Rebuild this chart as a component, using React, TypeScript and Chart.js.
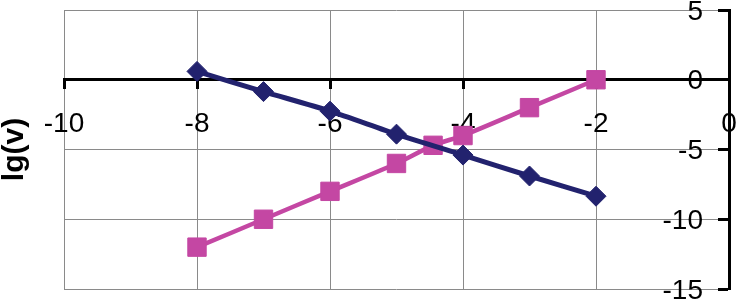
import React, { useEffect, useRef } from "react";
import { Chart, registerables } from "chart.js";

Chart.register(...registerables);

// Data
const blueX = [-8, -7, -6, -5, -4, -3, -2];
const blueY = [0.6, -0.85, -2.25, -3.9, -5.4, -6.9, -8.35];
const pinkX = [-8, -7, -6, -5, -4.45, -4, -3, -2];
const pinkY = [-12, -10, -8, -6, -4.7, -4, -2, 0];

const xMin = -10;
const xMax = 0;
const xStep = 2;
const yMin = -15;
const yMax = 5;
const yStep = 5;
const yTitle = "lg(v)";

const FONT = "'Liberation Sans', Arial, sans-serif";
const NAVY = "#22226e";
const PINK = "#c447a3";
const GRID = "#8a8a8a";

export default function App() {
  const ref = useRef<HTMLCanvasElement | null>(null);

  useEffect(() => {
    if (!ref.current) return;
    const zeroPad = (s: any) => {
      s.paddingLeft = 0;
      s.paddingRight = 0;
      s.paddingTop = 0;
      s.paddingBottom = 0;
    };
    const chart = new Chart(ref.current, {
      type: "line",
      data: {
        datasets: [
          {
            label: "s1",
            data: blueX.map((x, i) => ({ x, y: blueY[i] })),
            borderColor: NAVY,
            backgroundColor: NAVY,
            borderWidth: 5,
            pointStyle: "rectRot",
            pointRadius: 10,
            pointBorderWidth: 1,
            pointBackgroundColor: NAVY,
            pointBorderColor: NAVY,
            tension: 0.25,
            xAxisID: "x",
            yAxisID: "y",
          },
          {
            label: "s2",
            data: pinkX.map((x, i) => ({ x, y: pinkY[i] })),
            borderColor: PINK,
            backgroundColor: PINK,
            borderWidth: 4.5,
            pointStyle: "rect",
            pointRadius: 13,
            pointBorderWidth: 1,
            pointBackgroundColor: PINK,
            pointBorderColor: PINK,
            tension: 0.25,
            xAxisID: "x",
            yAxisID: "y",
          },
        ],
      },
      options: {
        animation: false,
        responsive: false,
        layout: { autoPadding: false, padding: { top: 10, bottom: 12, left: 0, right: 0 } },
        plugins: { legend: { display: false }, tooltip: { enabled: false } },
        scales: {
          x: {
            type: "linear",
            position: { y: 0 } as any,
            min: xMin,
            max: xMax,
            ticks: {
              stepSize: xStep,
              color: "#000",
              font: { family: FONT, size: 28 },
              padding: 20,
            },
            grid: {
              color: GRID,
              lineWidth: 1,
              tickColor: "#000",
              tickWidth: 3,
              tickLength: 8,
            },
            border: { display: true, color: "#000", width: 3 },
            afterFit: zeroPad,
          },
          y: {
            type: "linear",
            position: { x: 0 } as any,
            min: yMin,
            max: yMax,
            ticks: { stepSize: yStep, display: false },
            grid: {
              color: GRID,
              lineWidth: 1,
              tickColor: "#000",
              tickWidth: 3,
              tickLength: 10,
            },
            border: { display: true, color: "#000", width: 3 },
          },
          yLabels: {
            type: "linear",
            position: "right",
            min: yMin,
            max: yMax,
            ticks: {
              stepSize: yStep,
              mirror: true,
              padding: -26,
              labelOffset: 2,
              color: "#000",
              font: { family: FONT, size: 28 },
            },
            grid: { display: false },
            border: { display: false },
            afterFit: (s: any) => {
              s.width = 7;
              zeroPad(s);
            },
          },
          yTitle: {
            type: "linear",
            position: "left",
            ticks: { display: false },
            grid: { display: false },
            border: { display: false },
            title: {
              display: true,
              text: yTitle,
              color: "#000",
              font: { family: FONT, size: 30, weight: "bold", lineHeight: 1 },
              padding: { top: 0, bottom: 0 },
            },
            afterFit: (s: any) => {
              s.width = 64;
              zeroPad(s);
            },
          },
        },
      },
    });
    return () => chart.destroy();
  }, []);

  return (
    <div style={{ position: "absolute", left: 0, top: 0, width: 736, height: 301, background: "#fff" }}>
      <canvas ref={ref} width={736} height={301} style={{ display: "block" }} />
    </div>
  );
}
